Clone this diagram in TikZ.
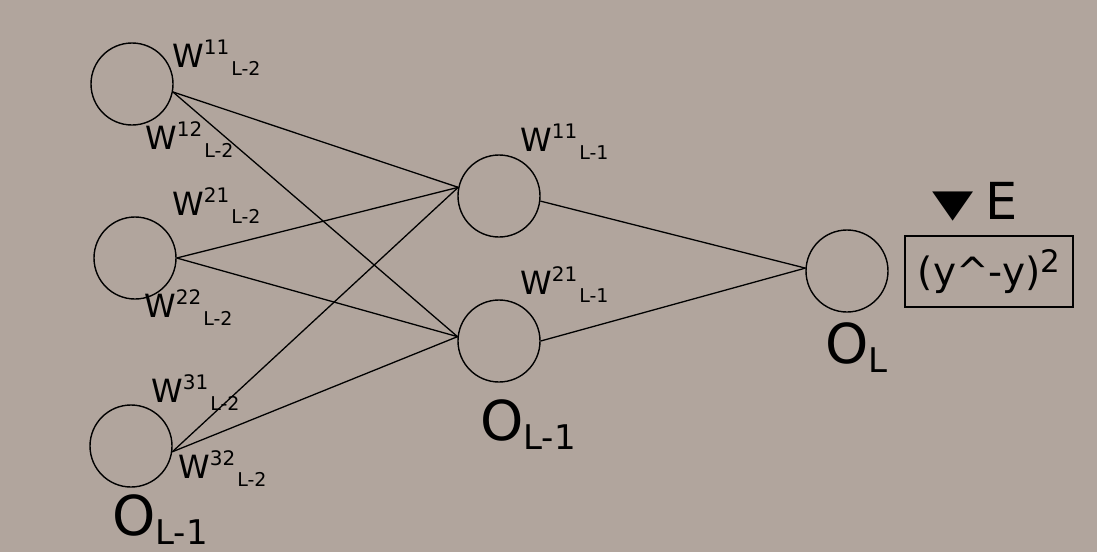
\documentclass[tikz,border=0pt]{standalone}
\usepackage{fontspec}
\setmainfont{DejaVu Sans}
\usetikzlibrary{calc}
\definecolor{bg}{RGB}{177,165,157}
\def\neuron{\node[circle,draw=black,line width=1.4pt,minimum size=82pt,inner sep=0pt]}
\def\lab{\node[anchor=base west,inner sep=0pt]}
\def\wire{\draw[line width=1.3pt]}
\newcommand\wgt[2]{{\fontsize{32}{32}\selectfont W}\raisebox{13pt}{\fontsize{20}{20}\selectfont #1}\hspace{2pt}\raisebox{-8pt}{\fontsize{19}{19}\selectfont #2}}
\newcommand\obig[1]{{\fontsize{55}{55}\selectfont O}\raisebox{-9pt}{\fontsize{34}{34}\selectfont #1}}

\begin{document}
\begin{tikzpicture}[x=1pt,y=-1pt]
\fill[bg] (0,0) rectangle (1097,552);

% Neurons
\neuron (A1) at (132,84) {};
\neuron (A2) at (135,258) {};
\neuron (A3) at (131,446) {};
\neuron (B1) at (499,196) {};
\neuron (B2) at (499,341) {};
\neuron (C) at (847,271) {};

% Weights between the layers
\wire (A1.-11) -- (B1.168);
\wire (A1.-11) -- (B2.174);
\wire (A2.0) -- (B1.168);
\wire (A2.0) -- (B2.174);
\wire (A3.-8) -- (B1.168);
\wire (A3.-8) -- (B2.174);
\wire (B1.-7) -- (C.176);
\wire (B2.0) -- (C.176);

% Weight labels
\lab (w11a) at (172,67) {\wgt{11}{L-2}};
\lab (w12a) at (145,149) {\wgt{12}{L-2}};
\lab (w21a) at (172,215) {\wgt{21}{L-2}};
\lab (w22a) at (144,317) {\wgt{22}{L-2}};
\lab (w31a) at (151,402) {\wgt{31}{L-2}};
\lab (w32a) at (178,478) {\wgt{32}{L-2}};
\lab (w11b) at (520,151) {\wgt{11}{L-1}};
\lab (w21b) at (520,294) {\wgt{21}{L-1}};

% Outputs
\lab (oa) at (112,535) {\obig{L-1}};
\lab (ob) at (480,440) {\obig{L-1}};
\lab (oc) at (825,363) {\obig{L}};

% Error
\lab (grad) at (932,219) {\fontsize{51}{51}\selectfont\raisebox{3pt}{\scalebox{1.05}[0.75]{▼}}\hspace{12pt}E};
\node[draw,line width=1.3pt,minimum width=168pt,minimum height=71pt,inner sep=0pt] (err) at (989,271.5)
  {\fontsize{39}{39}\selectfont (y\textasciicircum-y)\raisebox{13pt}{\fontsize{31}{31}\selectfont 2}};
\end{tikzpicture}
\end{document}
